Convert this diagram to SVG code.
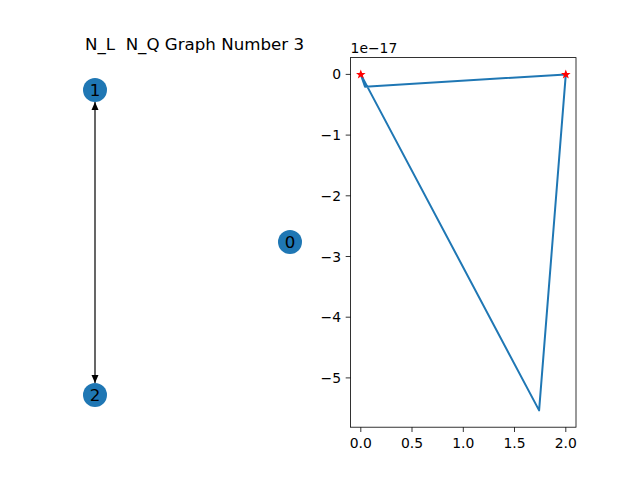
<svg xmlns="http://www.w3.org/2000/svg" width="640" height="480" viewBox="0 0 640 480">
<style>
text{font-family:"DejaVu Sans",sans-serif;fill:#000}
.node circle{fill:#1f77b4}
.node text{font-size:16.67px;text-anchor:middle;dominant-baseline:central}
.tick{stroke:#000;stroke-width:0.8}
.yl{font-size:13.9px;text-anchor:end;dominant-baseline:central}
.xl{font-size:13.9px;text-anchor:middle}
</style>
<defs>
<marker id="ah" viewBox="0 0 8 8" refX="8" refY="4" markerWidth="8" markerHeight="8" markerUnits="userSpaceOnUse" orient="auto-start-reverse">
<path d="M0,0.5 L8,4 L0,7.5 Z" fill="#000"/>
</marker>
</defs>
<rect width="640" height="480" fill="#fff"/>
<text x="194.5" y="50" font-size="16.67px" text-anchor="middle" xml:space="preserve" style="white-space:pre">N_L  N_Q Graph Number 3</text>
<g id="connectors">
<line x1="95" y1="102" x2="95" y2="383" stroke="#000" stroke-width="1.2" marker-start="url(#ah)" marker-end="url(#ah)"/>
</g>
<g id="node1" class="node"><circle cx="95" cy="90" r="12"/><text x="95" y="90">1</text></g>
<g id="node2" class="node"><circle cx="95" cy="395" r="12"/><text x="95" y="395">2</text></g>
<g id="node0" class="node"><circle cx="290" cy="242" r="12"/><text x="290" y="242">0</text></g>
<g id="plot">
<polyline points="360.8,74.4 539.1,410.4 565.8,74.4 365,86.7 360.8,74.4" fill="none" stroke="#1f77b4" stroke-width="2" stroke-linejoin="round"/>
<polygon points="360.8,69.6 362.1,73 365.6,73 362.8,75.2 363.8,78.6 360.8,76.6 357.8,78.6 358.8,75.2 356,73 359.5,73" fill="#f00"/>
<polygon points="565.8,69.6 567.1,73 570.6,73 567.8,75.2 568.8,78.6 565.8,76.6 562.8,78.6 563.8,75.2 561,73 564.5,73" fill="#f00"/>
<rect x="350.55" y="57.6" width="225.45" height="369.6" fill="none" stroke="#000" stroke-width="0.8"/>
<g class="tick">
<line x1="345.7" y1="74.4" x2="350.55" y2="74.4"/>
<line x1="345.7" y1="135.1" x2="350.55" y2="135.1"/>
<line x1="345.7" y1="195.8" x2="350.55" y2="195.8"/>
<line x1="345.7" y1="256.5" x2="350.55" y2="256.5"/>
<line x1="345.7" y1="317.2" x2="350.55" y2="317.2"/>
<line x1="345.7" y1="377.9" x2="350.55" y2="377.9"/>
<line x1="360.8" y1="427.2" x2="360.8" y2="432"/>
<line x1="412.0" y1="427.2" x2="412.0" y2="432"/>
<line x1="463.3" y1="427.2" x2="463.3" y2="432"/>
<line x1="514.5" y1="427.2" x2="514.5" y2="432"/>
<line x1="565.8" y1="427.2" x2="565.8" y2="432"/>
</g>
<text class="yl" x="341" y="74.4">0</text>
<text class="yl" x="341" y="135.1">−1</text>
<text class="yl" x="341" y="195.8">−2</text>
<text class="yl" x="341" y="256.5">−3</text>
<text class="yl" x="341" y="317.2">−4</text>
<text class="yl" x="341" y="377.9">−5</text>
<text class="xl" x="360.8" y="447.5">0.0</text>
<text class="xl" x="412.0" y="447.5">0.5</text>
<text class="xl" x="463.3" y="447.5">1.0</text>
<text class="xl" x="514.5" y="447.5">1.5</text>
<text class="xl" x="565.8" y="447.5">2.0</text>
<text x="350.55" y="53" font-size="13.9px">1e−17</text>
</g>
</svg>
